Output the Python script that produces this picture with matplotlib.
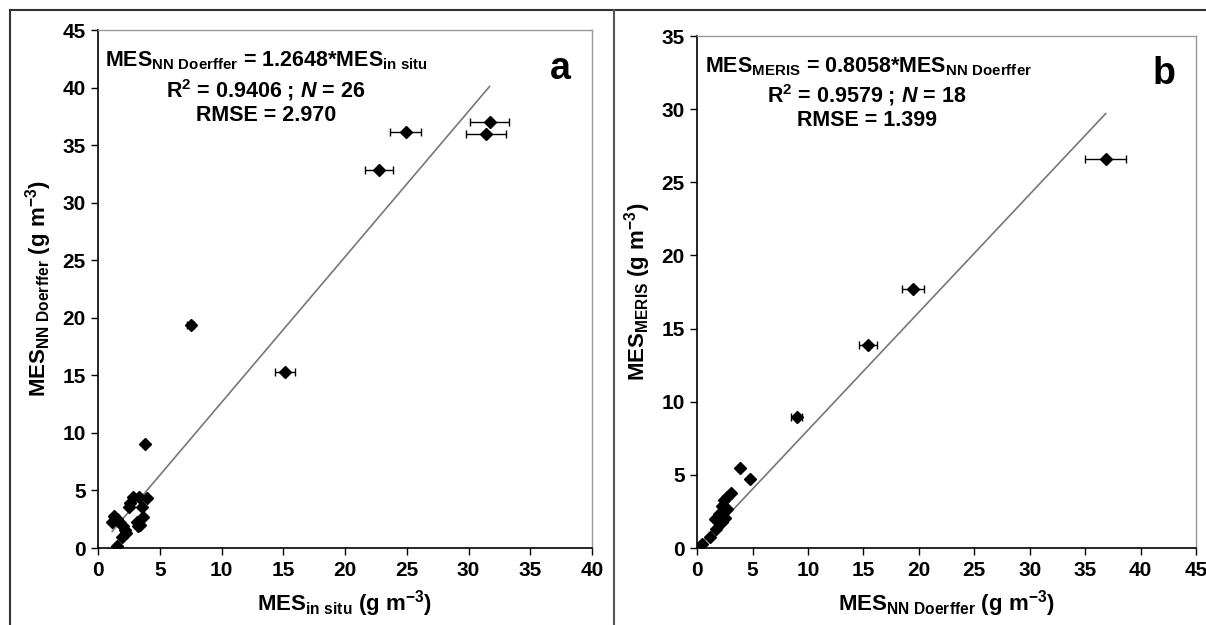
import numpy as np
import matplotlib.pyplot as plt
from matplotlib.lines import Line2D

# Panel a: MES in situ vs MES NN Doerffer
a_x = [31.7, 31.4, 24.9, 22.75, 7.5, 15.15, 3.8,
       2.85, 3.3, 3.95, 2.5, 3.55, 1.3, 1.5, 1.15, 3.65, 2.0,
       3.15, 3.25, 2.3, 1.9, 1.55, 1.8, 2.6, 3.4, 2.2]
a_y = [37.0, 35.95, 36.1, 32.8, 19.4, 15.3, 9.0,
       4.4, 4.4, 4.35, 3.55, 3.55, 2.8, 2.5, 2.3, 2.7, 1.9,
       2.3, 1.9, 1.3, 0.95, 0.2, 2.2, 3.9, 2.0, 1.6]
a_err = [1.6, 1.6, 1.25, 1.15, 0.3, 0.8, 0.15,
         0.1, 0.1, 0.1, 0.1, 0.1, 0.1, 0.1, 0.1, 0.1, 0.1,
         0.1, 0.1, 0.1, 0.1, 0.1, 0.1, 0.1, 0.1, 0.1]
a_slope = 1.2648

# Panel b: MES NN Doerffer vs MES MERIS
b_x = [36.85, 19.45, 15.4, 9.0, 3.85, 4.8,
       3.05, 2.7, 2.45, 2.25, 2.7, 2.5, 1.6, 2.25, 1.7, 1.15, 0.45, 2.0]
b_y = [26.6, 17.7, 13.9, 8.95, 5.45, 4.7,
       3.75, 3.5, 3.3, 2.9, 2.7, 2.05, 2.0, 1.8, 1.3, 0.75, 0.27, 2.3]
b_err = [1.85, 1.0, 0.8, 0.5, 0.15, 0.15,
         0.1, 0.1, 0.1, 0.1, 0.1, 0.1, 0.1, 0.1, 0.1, 0.1, 0.1, 0.1]
b_slope = 0.8058

plt.rcParams['font.family'] = ['Liberation Sans', 'DejaVu Sans']
plt.rcParams['font.weight'] = 'bold'
plt.rcParams['mathtext.fontset'] = 'custom'
plt.rcParams['mathtext.rm'] = 'Liberation Sans:bold'
plt.rcParams['mathtext.bf'] = 'Liberation Sans:bold'
plt.rcParams['mathtext.it'] = 'Liberation Sans:italic:bold'

fig = plt.figure(figsize=(12.06, 6.25), dpi=100)

# outer frames
fig.add_artist(Line2D([0.0083, 1.0], [0.984, 0.984], color='#333333', lw=1.5))
fig.add_artist(Line2D([0.0083, 0.0083], [0.0, 0.984], color='#333333', lw=1.5))
fig.add_artist(Line2D([0.509, 0.509], [0.0, 0.984], color='#555555', lw=1.5))


def panel(ax, x, y, err, slope, xmax, ymax, xlab, ylab, eq, stats, rmse, letter):
    x = np.array(x)
    ax.errorbar(x, y, xerr=err, fmt='D', color='black', ms=6.5,
                ecolor='black', elinewidth=1, capsize=3, capthick=1, zorder=3)
    xl = np.array([x.min(), x.max()])
    ax.plot(xl, slope * xl, color='#777777', lw=1.2, zorder=2)
    ax.set_xlim(0, xmax)
    ax.set_ylim(0, ymax)
    ax.set_xticks(np.arange(0, xmax + 1, 5))
    ax.set_yticks(np.arange(0, ymax + 1, 5))
    ax.tick_params(direction='out', length=5, width=1, labelsize=15, pad=4)
    for lab in ax.get_xticklabels() + ax.get_yticklabels():
        lab.set_fontweight('bold')
    for s in ['top', 'right']:
        ax.spines[s].set_color('#999999')
        ax.spines[s].set_linewidth(1)
    for s in ['left', 'bottom']:
        ax.spines[s].set_color('black')
        ax.spines[s].set_linewidth(1.2)
    ax.set_xlabel(xlab, fontsize=16, fontweight='bold', labelpad=6)
    ax.set_ylabel(ylab, fontsize=16, fontweight='bold', labelpad=6)
    ax.text(0.015, 0.94, eq, transform=ax.transAxes, fontsize=15.5,
            fontweight='bold', ha='left', va='center')
    ax.text(0.34, 0.885, stats, transform=ax.transAxes, fontsize=15.5,
            fontweight='bold', ha='center', va='center')
    ax.text(0.34, 0.835, rmse, transform=ax.transAxes, fontsize=15.5,
            fontweight='bold', ha='center', va='center')
    ax.text(0.935, 0.925, letter, transform=ax.transAxes, fontsize=27,
            fontweight='bold', ha='center', va='center')


ax1 = fig.add_axes([0.0813, 0.1232, 0.4096, 0.8288])
panel(ax1, a_x, a_y, a_err, a_slope, 40, 45,
      r'MES$_\mathrm{in\ situ}$ (g m$^\mathrm{-3}$)',
      r'MES$_\mathrm{NN\ Doerffer}$ (g m$^\mathrm{-3}$)',
      r'MES$_\mathrm{NN\ Doerffer}$ = 1.2648*MES$_\mathrm{in\ situ}$',
      r'R$^\mathrm{2}$ = 0.9406 ; $\mathit{N}$ = 26',
      'RMSE = 2.970', 'a')

ax2 = fig.add_axes([0.578, 0.1232, 0.4137, 0.8192])
panel(ax2, b_x, b_y, b_err, b_slope, 45, 35,
      r'MES$_\mathrm{NN\ Doerffer}$ (g m$^\mathrm{-3}$)',
      r'MES$_\mathrm{MERIS}$ (g m$^\mathrm{-3}$)',
      r'MES$_\mathrm{MERIS}$ = 0.8058*MES$_\mathrm{NN\ Doerffer}$',
      r'R$^\mathrm{2}$ = 0.9579 ; $\mathit{N}$ = 18',
      'RMSE = 1.399', 'b')

fig.savefig('out.png', dpi=100)
